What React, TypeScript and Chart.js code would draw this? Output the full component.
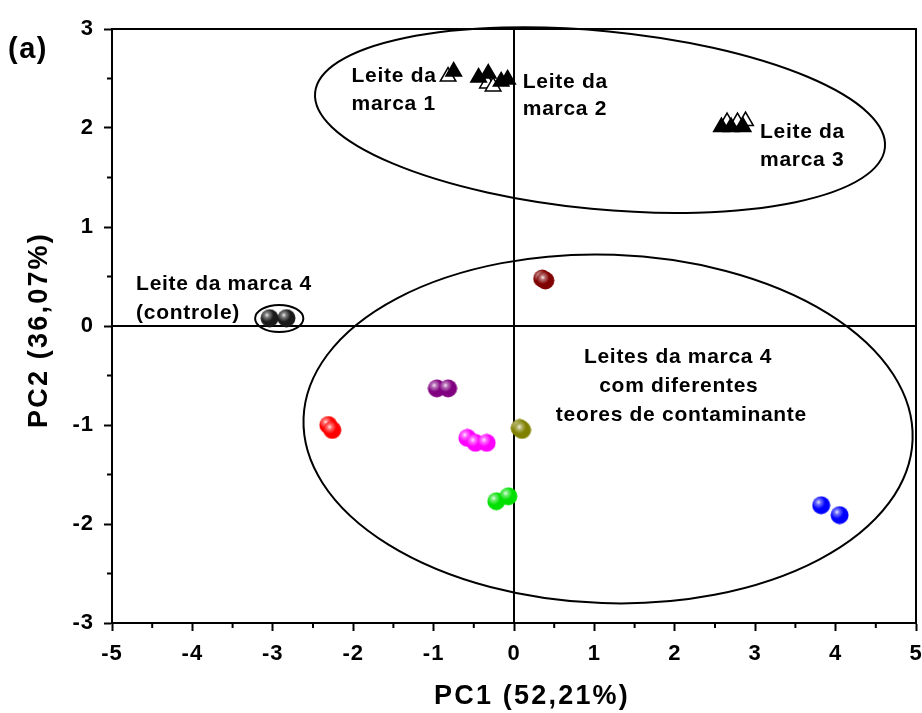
import React, { useEffect, useRef } from 'react';
import { Chart, registerables } from 'chart.js';
Chart.register(...registerables);

// ---- data ----
const xTickValues = [-5, -4, -3, -2, -1, 0, 1, 2, 3, 4, 5];
const yTickValues = [-3, -2, -1, 0, 1, 2, 3];

// brands 1-3 (triangles)
const filledTriX = [-0.75, -0.44, -0.32, -0.16, -0.08, 2.58, 2.7, 2.85];
const filledTriY = [2.57, 2.51, 2.55, 2.47, 2.49, 2.01, 2.01, 2.01];
const openTriX = [-0.82, -0.33, -0.26, 2.65, 2.78, 2.88];
const openTriY = [2.52, 2.45, 2.42, 2.06, 2.06, 2.07];

// brand 4 samples (spheres)
const controlX = [-3.04, -2.83];
const controlY = [0.08, 0.08];
const darkRedX = [0.35, 0.39];
const darkRedY = [0.48, 0.46];
const purpleX = [-0.96, -0.82];
const purpleY = [-0.63, -0.63];
const redX = [-2.31, -2.26];
const redY = [-1.0, -1.05];
const magentaX = [-0.58, -0.48, -0.34];
const magentaY = [-1.13, -1.18, -1.18];
const oliveX = [0.07, 0.1];
const oliveY = [-1.03, -1.05];
const greenX = [-0.22, -0.07];
const greenY = [-1.77, -1.72];
const blueX = [3.82, 4.05];
const blueY = [-1.81, -1.91];

const xTitle = 'PC1 (52,21%)';
const yTitle = 'PC2 (36,07%)';
const panelLabel = '(a)';

// group ellipses (data units): cx, cy, rx, ry, rotation (deg, screen)
const ellipses = [
  { cx: 1.07, cy: 2.08, rx: 3.56, ry: 0.9, rot: 5.5 },
  { cx: 1.17, cy: -1.04, rx: 3.79, ry: 1.76, rot: 2 },
  { cx: -2.92, cy: 0.076, rx: 0.3, ry: 0.137, rot: 0 },
];

// annotation texts (data units, left aligned, baseline)
const notes = [
  { t: 'Leite da', x: -2.02, y: 2.46 },
  { t: 'marca 1', x: -2.02, y: 2.18 },
  { t: 'Leite da', x: 0.11, y: 2.4 },
  { t: 'marca 2', x: 0.11, y: 2.13 },
  { t: 'Leite da', x: 3.06, y: 1.9 },
  { t: 'marca 3', x: 3.06, y: 1.62 },
  { t: 'Leite da marca 4', x: -4.7, y: 0.36 },
  { t: '(controle)', x: -4.7, y: 0.07 },
  { t: 'Leites da marca 4', x: 0.87, y: -0.37 },
  { t: 'com diferentes', x: 1.06, y: -0.67 },
  { t: 'teores de contaminante', x: 0.52, y: -0.96 },
];

const FONT = "'Liberation Sans', Arial, sans-serif";

function zip(xs: number[], ys: number[]) {
  return xs.map((x, i) => ({ x, y: ys[i] }));
}

function sphere(color: string, d = 19) {
  const c = document.createElement('canvas');
  c.width = d;
  c.height = d;
  const g = c.getContext('2d')!;
  const r = d / 2;
  g.beginPath();
  g.arc(r, r, r - 0.5, 0, Math.PI * 2);
  g.fillStyle = color;
  g.fill();
  const hx = r * 0.72;
  const hy = r * 0.68;
  const grad = g.createRadialGradient(hx, hy, 0, hx, hy, r * 0.7);
  grad.addColorStop(0, 'rgba(255,255,255,0.95)');
  grad.addColorStop(0.35, 'rgba(255,255,255,0.45)');
  grad.addColorStop(1, 'rgba(255,255,255,0)');
  g.fillStyle = grad;
  g.fill();
  return c;
}

const decor = {
  id: 'decor',
  beforeDraw(chart: any) {
    chart.ctx.letterSpacing = '1px';
  },
  beforeDatasetsDraw(chart: any) {
    const { ctx, chartArea: a, scales } = chart;
    const xs = scales.x;
    const ys = scales.y;
    ctx.save();
    ctx.strokeStyle = '#000';
    ctx.lineWidth = 2;
    ctx.beginPath();
    ctx.moveTo(a.left, a.top);
    ctx.lineTo(a.right, a.top);
    ctx.lineTo(a.right, a.bottom);
    ctx.stroke();
    const x0 = xs.getPixelForValue(0);
    const y0 = ys.getPixelForValue(0);
    ctx.beginPath();
    ctx.moveTo(x0, a.top);
    ctx.lineTo(x0, a.bottom);
    ctx.moveTo(a.left, y0);
    ctx.lineTo(a.right, y0);
    ctx.stroke();
    ctx.beginPath();
    for (let v = -4.5; v < 5; v += 1) {
      const px = xs.getPixelForValue(v);
      ctx.moveTo(px, a.bottom);
      ctx.lineTo(px, a.bottom + 5);
    }
    for (let v = -2.5; v < 3; v += 1) {
      const py = ys.getPixelForValue(v);
      ctx.moveTo(a.left, py);
      ctx.lineTo(a.left - 5, py);
    }
    ctx.stroke();
    for (const e of ellipses) {
      const cx = xs.getPixelForValue(e.cx);
      const cy = ys.getPixelForValue(e.cy);
      const rx = Math.abs(xs.getPixelForValue(e.cx + e.rx) - cx);
      const ry = Math.abs(ys.getPixelForValue(e.cy + e.ry) - cy);
      ctx.beginPath();
      ctx.ellipse(cx, cy, rx, ry, (e.rot * Math.PI) / 180, 0, Math.PI * 2);
      ctx.stroke();
    }
    ctx.restore();
  },
  afterDraw(chart: any) {
    const { ctx, scales, chartArea: a } = chart;
    ctx.save();
    ctx.fillStyle = '#000';
    ctx.textAlign = 'left';
    ctx.textBaseline = 'alphabetic';
    ctx.letterSpacing = '0.7px';
    ctx.font = `bold 21px ${FONT}`;
    for (const n of notes) {
      ctx.fillText(n.t, scales.x.getPixelForValue(n.x), scales.y.getPixelForValue(n.y));
    }
    ctx.letterSpacing = '1.5px';
    ctx.font = `bold 29px ${FONT}`;
    ctx.fillText(panelLabel, 8, 58);
    // axis titles
    ctx.letterSpacing = '2.2px';
    ctx.font = `bold 27px ${FONT}`;
    ctx.textAlign = 'center';
    ctx.textBaseline = 'middle';
    ctx.fillText(xTitle, (a.left + a.right) / 2 + 18, 697);
    ctx.translate(40, (a.top + a.bottom) / 2 + 4);
    ctx.rotate(-Math.PI / 2);
    ctx.fillText(yTitle, 0, 0);
    ctx.restore();
  },
};

export default function App() {
  const ref = useRef<HTMLCanvasElement>(null);
  useEffect(() => {
    const tri = (x: number[], y: number[], fill: string) => ({
      data: zip(x, y),
      pointStyle: 'triangle',
      pointRadius: 9,
      pointBackgroundColor: fill,
      pointBorderColor: '#000',
      pointBorderWidth: 1.5,
      showLine: false,
    });
    const sph = (x: number[], y: number[], color: string) => ({
      data: zip(x, y),
      pointStyle: sphere(color),
      pointRadius: 9,
      showLine: false,
    });
    const chart = new Chart(ref.current!, {
      type: 'scatter',
      data: {
        datasets: [
          tri(filledTriX, filledTriY, '#000'),
          tri(openTriX, openTriY, '#fff'),
          sph(controlX, controlY, '#1a1a1a'),
          sph(darkRedX, darkRedY, '#800000'),
          sph(purpleX, purpleY, '#800080'),
          sph(redX, redY, '#ff0000'),
          sph(magentaX, magentaY, '#ff00ff'),
          sph(oliveX, oliveY, '#808000'),
          sph(greenX, greenY, '#00e000'),
          sph(blueX, blueY, '#0000ff'),
        ] as any,
      },
      options: {
        responsive: false,
        animation: false,
        devicePixelRatio: 1,
        layout: { autoPadding: false, padding: { top: 29, right: 6, left: 0, bottom: 0 } },
        plugins: { legend: { display: false }, tooltip: { enabled: false } },
        scales: {
          x: {
            type: 'linear',
            min: -5,
            max: 5,
            afterBuildTicks: (s: any) => {
              s.ticks = xTickValues.map((v) => ({ value: v }));
            },
            ticks: {
              color: '#000',
              font: { family: FONT, size: 22, weight: 'bold' },
              padding: 10,
              maxRotation: 0,
              callback: (v: any) => String(v),
            },
            grid: { display: true, drawOnChartArea: false, drawTicks: true, tickLength: 8, tickWidth: 2, tickColor: '#000' },
            border: { display: true, color: '#000', width: 2 },
            afterFit: (s: any) => {
              s.height = 90;
              s.paddingLeft = 0;
              s.paddingRight = 0;
            },
          },
          y: {
            type: 'linear',
            min: -3,
            max: 3,
            afterBuildTicks: (s: any) => {
              s.ticks = yTickValues.map((v) => ({ value: v }));
            },
            ticks: {
              color: '#000',
              font: { family: FONT, size: 22, weight: 'bold' },
              padding: 10,
              callback: (v: any) => String(v),
            },
            grid: { display: true, drawOnChartArea: false, drawTicks: true, tickLength: 8, tickWidth: 2, tickColor: '#000' },
            border: { display: true, color: '#000', width: 2 },
            afterFit: (s: any) => {
              s.width = 112;
              s.paddingTop = 0;
              s.paddingBottom = 0;
            },
          },
        },
      } as any,
      plugins: [decor],
    });
    return () => chart.destroy();
  }, []);
  return (
    <div style={{ position: 'fixed', left: 0, top: 0, width: 922, height: 713, background: '#fff' }}>
      <canvas ref={ref} width={922} height={713} />
    </div>
  );
}
